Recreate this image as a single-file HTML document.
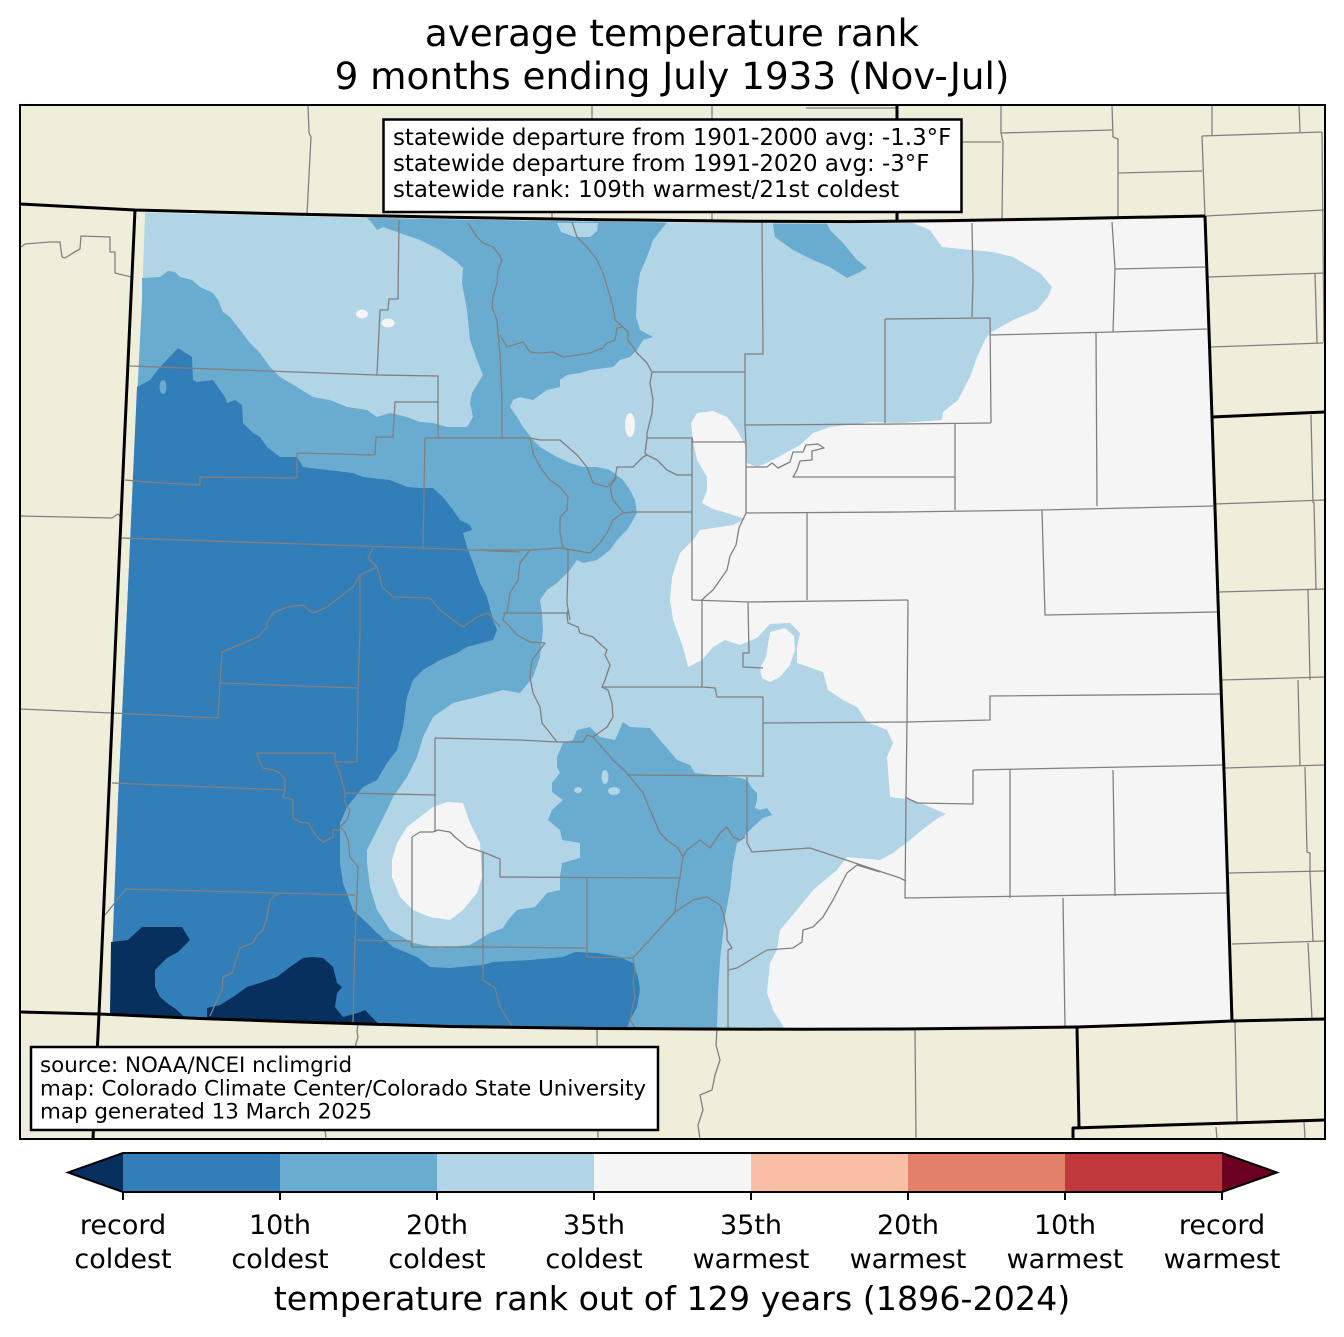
<!DOCTYPE html>
<html>
<head>
<meta charset="utf-8">
<style>
html,body{margin:0;padding:0;background:#fff;}
svg{display:block;}
text{font-family:"DejaVu Sans","Liberation Sans",sans-serif;fill:#000;}
</style>
</head>
<body>
<svg width="1344" height="1337" viewBox="0 0 1344 1337" xmlns="http://www.w3.org/2000/svg">
<rect x="0" y="0" width="1344" height="1337" fill="#ffffff"/>
<!-- title -->
<text x="672" y="46" font-size="37.3" text-anchor="middle">average temperature rank</text>
<text x="672" y="89" font-size="37.3" text-anchor="middle">9 months ending July 1933 (Nov-Jul)</text>

<!-- map background -->
<rect x="20" y="105" width="1305" height="1034" fill="#efeedb"/>

<!-- Colorado data area (white base) -->
<polygon fill="#f5f5f5" points="145,212.5 300,216.3 450,219.3 600,221.7 750,223.2 850,223.6 950,222.6 1050,221 1205,218 1212,417 1218,600 1225,800 1232,1021 1150,1024.5 1077,1027 1000,1028 900,1029 800,1029.3 700,1029 600,1028.5 450,1026.5 300,1022 200,1018.5 110,1014.5 118,800 127,610 137,400 142,300"/>

<!-- light blue -->
<polygon fill="#b1d4e6" points="145,212.5 300,216.3 450,219.3 600,221.7 750,223.2 850,223.6 913,223 930,230 942,247 972,250 993,252 1013,257 1040,273 1052,287 1048,297 1037,310 1013,320 990,333 985,340 977,357 970,377 958,400 943,412 942,420 900,423 873,422 830,427 813,433 800,445 773,460 757,467 747,463 745,445 737,430 727,417 713,411 697,413 691,423 693,440 697,460 707,477 707,490 702,503 713,509 727,513 745,519 733,525 700,530 693,540 680,553 672,577 670,600 673,620 683,647 688,667 702,660 713,647 725,640 740,645 757,638 770,624 790,623 800,633 797,648 797,663 823,672 828,690 843,700 857,707 867,722 887,730 893,743 887,757 890,797 913,800 932,808 946,814 938,818 922,830 910,840 893,853 880,860 847,857 837,870 813,890 797,910 780,930 777,950 770,963 767,993 773,1010 785,1029.3 700,1029 600,1028.5 450,1026.5 300,1022 200,1018.5 110,1014.5 118,800 127,610 137,400 142,300"/>
<!-- white holes in light -->
<polygon fill="#f5f5f5" points="770,632 785,628 794,636 795,650 790,665 780,677 770,682 762,678 760,668 766,657 768,645"/>
<ellipse cx="362" cy="314" rx="6" ry="4.5" fill="#f5f5f5"/>
<ellipse cx="388" cy="323" rx="6.5" ry="4.5" fill="#f5f5f5"/>
<ellipse cx="630" cy="425" rx="5" ry="12" fill="#f5f5f5"/>

<!-- medium blue top-right blob -->
<polygon fill="#6aacd0" points="773,223.5 775,237 793,250 813,260 830,267 847,278 860,272 867,268 857,260 843,243 830,230 827,223.5"/>

<!-- medium blue main -->
<polygon fill="#6aacd0" points="142,278 160,277 168,271 175,272 180,277 192,280 200,287 213,293 218,300 223,312 230,317 240,330 250,343 260,353 270,367 280,377 297,387 313,397 330,400 347,407 367,410 377,417 390,413 407,417 420,422 433,423 447,427 467,427 473,417 470,403 472,393 483,375 477,360 470,340 467,310 462,283 463,268 457,262 440,250 420,240 400,233 383,227 377,230 372,223 367,217.8 450,219.3 600,221.7 667,222.5 653,240 647,257 640,273 637,293 636,317 640,330 653,337 643,340 637,350 630,357 620,360 613,367 590,370 580,373 567,375 560,380 560,387 547,390 533,400 520,397 513,400 510,407 517,417 523,427 533,440 540,447 557,457 570,463 583,467 597,467 610,470 623,480 630,490 635,500 637,513 633,520 627,530 617,540 610,550 597,560 583,563 577,560 570,570 557,583 547,590 540,600 542,613 543,630 540,657 533,677 520,693 503,690 477,697 453,703 433,717 423,737 417,757 407,777 393,797 387,810 377,830 367,850 367,863 370,887 377,910 390,930 413,943 440,948 470,945 490,933 503,928 508,920 517,910 535,907 547,893 560,890 560,877 562,863 580,858 580,843 562,840 560,830 548,820 552,810 563,800 552,792 552,783 560,773 557,767 557,757 563,743 573,740 577,730 590,727 600,737 615,740 623,722 630,727 650,728 660,740 677,760 690,765 695,773 713,775 740,778 747,780 752,788 757,793 757,800 755,808 760,810 767,808 772,815 763,818 753,827 747,833 742,840 737,843 733,863 730,890 725,917 720,960 718,993 717,1029.2 600,1028.5 450,1026.5 300,1022 200,1018.5 110,1014.5 118,800 127,610 137,400 142,300"/>
<!-- light patches in medium -->
<polygon fill="#b1d4e6" points="557,223 561,232 575,237 590,237 597,231 598,223"/>
<ellipse cx="605" cy="777" rx="3.5" ry="7" fill="#b1d4e6"/>
<ellipse cx="614" cy="791" rx="6" ry="4" fill="#b1d4e6"/>
<ellipse cx="578" cy="790" rx="4" ry="3" fill="#b1d4e6"/>

<!-- dark blue -->
<polygon fill="#327eb8" points="137,387 150,380 160,367 178,348 192,357 193,380 197,382 213,380 220,390 225,397 227,403 235,400 242,405 243,423 253,433 260,437 267,447 280,457 297,457 303,467 327,470 353,473 363,477 390,480 407,487 420,488 433,488 443,497 453,510 460,520 470,525 472,530 463,533 467,547 473,563 480,583 487,597 493,620 497,630 493,640 467,647 457,653 440,660 423,670 413,680 407,697 403,727 397,750 387,763 377,780 363,787 347,807 340,823 340,843 340,863 343,883 353,910 367,923 377,933 393,947 417,957 430,967 450,968 470,966 483,965 493,962 530,960 563,957 575,952 597,953 620,957 633,963 638,977 640,990 637,1007 630,1020 627,1028.4 450,1026.5 300,1022 200,1018.5 110,1014.5 118,800 127,610"/>
<ellipse cx="163" cy="387" rx="3.5" ry="7" fill="#6aacd0"/>

<!-- darkest -->
<polygon fill="#08305f" points="111,942 128,940 142,927 182,927 190,940 178,952 167,958 155,970 155,987 160,997 167,1003 177,1010 186,1018.5 110,1014.5"/>
<polygon fill="#08305f" points="207,1019 207,1008 220,1005 233,997 247,987 260,983 277,977 290,967 303,958 313,957 323,958 333,967 337,983 342,987 337,993 335,1007 343,1017 358,1013 365,1010 378,1023.5 300,1022"/>

<!-- SW white blob -->
<polygon fill="#f5f5f5" points="447,802 463,803 470,823 480,843 482,877 477,893 463,910 450,920 430,917 413,910 400,897 392,877 392,860 397,843 407,827 420,817 433,807"/>

<!-- county lines -->
<g fill="none" stroke="#808080" stroke-width="1.3" stroke-linejoin="round">
<polyline points="399,220 398,299 389,299 388,310 380,310 378,353 377,375"/>
<polyline points="130,366 377,375 438,376 438,437"/>
<polyline points="468,223 477,237 483,243 493,247 498,253 502,260 498,270 497,283 493,297 492,307 497,320 498,333 500,353 502,400 502,438"/>
<polyline points="572,222 577,237 587,247 597,260 603,273 608,290 613,307 615,320 623,327 628,332 628,340 637,353 647,363 652,372 745,372"/>
<polyline points="762,222 763,354 745,354 745,372 745,425 746,443 746,513"/>
<polyline points="500,335 507,347 523,342 530,352 540,353 553,352 563,357 577,355 590,353 603,348 607,343 615,340 617,328 623,327"/>
<polyline points="885,319 885,423"/>
<polyline points="885,319 990,318 991,423"/>
<polyline points="990,335 1113,332 1207,329"/>
<polyline points="1112,222 1115,268 1113,332"/>
<polyline points="1115,269 1205,267"/>
<polyline points="972,223 973,280 972,317"/>
<polyline points="1096,333 1097,506"/>
<polyline points="745,425 900,424 991,423"/>
<polyline points="955,423 955,510"/>
<polyline points="425,438 530,438 540,440 560,440 577,455 587,467 593,483 607,487 615,478 617,467 633,467 643,457 647,455 657,460 667,470 677,475 692,475"/>
<polyline points="652,372 650,383 653,400 652,413 647,433 647,438 645,453 647,455"/>
<polyline points="647,438 692,438 693,442 745,442"/>
<polyline points="692,438 692,600"/>
<polyline points="746,467 767,467 772,463 778,468 790,462 793,452 803,452 806,445 818,444 824,448 812,451 812,460 800,461 797,470 793,477 955,477"/>
<polyline points="746,513 900,512 1042,510 1213,506"/>
<polyline points="807,513 807,600"/>
<polyline points="692,600 749,602 908,600"/>
<polyline points="746,513 739,528 736,545 730,556 727,570 720,580 713,590 705,597 702,600 702,687 715,688 717,697 763,697 763,777"/>
<polyline points="1042,510 1045,615 1217,612"/>
<polyline points="908,600 907,720 906,800 905,898 1228,893"/>
<polyline points="1010,770 1010,898"/>
<polyline points="1113,770 1115,896"/>
<polyline points="1063,898 1065,1027"/>
<polyline points="907,722 990,720 990,696 1221,694"/>
<polyline points="973,770 1225,765"/>
<polyline points="905,797 917,803 973,804 973,770"/>
<polyline points="748,602 749,653 743,653 743,667 763,668"/>
<polyline points="763,723 907,722"/>
<polyline points="593,737 613,760 627,773 643,793 650,810 660,833 667,840 678,848 683,857 680,877 677,893 675,912"/>
<polyline points="627,775 763,776"/>
<polyline points="747,777 747,843 752,852 810,848 900,878 906,881"/>
<polyline points="745,837 740,840 733,837 727,827 720,833 710,848 700,840 687,850 683,857"/>
<polyline points="675,912 693,900 707,897 720,905 723,913 727,930 727,940 732,948 728,950 728,1028"/>
<polyline points="728,970 737,968 747,962 767,950 793,948 802,942 803,930 813,927 823,917 833,900 847,873 857,865 880,872"/>
<polyline points="675,912 633,958 635,970 633,983 635,997 632,1010 630,1020 635,1028"/>
<polyline points="483,852 500,859 500,877 680,878"/>
<polyline points="587,878 587,957 633,958"/>
<polyline points="478,947 587,948"/>
<polyline points="483,947 483,980 495,988 500,1007 512,1026"/>
<polyline points="412,837 412,947 483,947"/>
<polyline points="483,852 483,947"/>
<polyline points="412,837 420,832 433,832 438,830 450,832 455,837 467,847 483,852"/>
<polyline points="435,738 435,832"/>
<polyline points="435,738 520,740 557,742 583,742 587,735 593,737"/>
<polyline points="505,613 503,620 510,627 517,635 530,642 545,643 542,647 532,660 530,677 533,693 540,707 542,723 550,733 557,742"/>
<polyline points="568,610 567,615 568,623 578,627 580,633 593,637 598,642 607,650 605,655 610,665 605,680 602,687 608,690 612,703 613,717 607,727 593,737"/>
<polyline points="602,687 702,687"/>
<polyline points="345,793 435,795"/>
<polyline points="360,575 360,630 358,688 357,762 335,762 335,753 257,753 260,762 263,768 273,770 280,773 285,780 285,790"/>
<polyline points="112,783 285,790"/>
<polyline points="220,683 358,688"/>
<polyline points="267,623 267,627 258,637 222,652 220,683 218,718"/>
<polyline points="113,713 218,718"/>
<polyline points="285,790 283,797 293,800 293,818 300,822 308,823 317,837 323,842 333,837 333,830 340,830"/>
<polyline points="335,762 340,773 345,793 345,803 350,810 347,820 340,827 345,832 348,840 350,857 358,867 357,895 355,940 353,1025"/>
<polyline points="105,915 126,889 278,893 355,895"/>
<polyline points="278,893 270,900 267,917 263,930 257,935 253,943 240,948 237,957 232,973 223,977 222,990 217,1000 210,1016"/>
<polyline points="355,940 410,941 412,947"/>
<polyline points="125,480 147,482 200,485 200,477 297,478 297,453 375,455 376,437 393,437 395,402 438,402"/>
<polyline points="122,538 423,548 520,552"/>
<polyline points="425,438 423,548"/>
<polyline points="373,548 368,558 377,567 380,577 382,587 393,597 430,598 440,610 453,620 463,627 477,617 488,613 500,627"/>
<polyline points="377,567 360,575 353,587 340,597 327,607 313,613 303,605 287,607 273,613 267,623"/>
<polyline points="530,438 533,453 540,467 550,480 560,487 568,497 567,510 560,517 560,533 563,547 568,550"/>
<polyline points="480,550 530,550 560,548 590,553 600,543 607,533 613,520 623,513 633,512 692,512"/>
<polyline points="617,477 610,487 613,500 623,512"/>
<polyline points="530,550 520,563 518,580 510,593 507,613"/>
<polyline points="503,613 567,613"/>
<polyline points="568,550 568,567 567,603 570,620"/>
<!-- outside Colorado -->
<polyline points="21,247 25,244 50,242 60,242 62,257 65,258 73,253 80,249 81,236 110,237 110,252 115,252 115,273 131,277"/>
<polyline points="20,516 112,518 118,514 122,518"/>
<polyline points="20,709 112,713"/>
<polyline points="308,105 309,133 311,137 307,214"/>
<polyline points="592,105 592,125"/>
<polyline points="712,105 712,221"/>
<polyline points="552,200 552,219"/>
<polyline points="806,108 897,108"/>
<polyline points="1001,105 1001,133 1003,142 1002,219"/>
<polyline points="961,142 1001,142"/>
<polyline points="1001,133 1112,130"/>
<polyline points="1112,105 1113,137 1118,139 1118,218"/>
<polyline points="1118,173 1202,171"/>
<polyline points="1212,105 1212,135"/>
<polyline points="1202,136 1322,132"/>
<polyline points="1202,136 1205,216"/>
<polyline points="1299,105 1300,132"/>
<polyline points="1322,132 1324,343"/>
<polyline points="1205,216 1324,210"/>
<polyline points="1208,277 1325,273"/>
<polyline points="1315,273 1317,343"/>
<polyline points="1210,347 1323,343"/>
<polyline points="1311,415 1313,503"/>
<polyline points="1215,504 1325,500"/>
<polyline points="1314,502 1316,590"/>
<polyline points="1219,592 1325,589"/>
<polyline points="1308,590 1310,680"/>
<polyline points="1222,680 1325,677"/>
<polyline points="1298,680 1300,766"/>
<polyline points="1225,768 1325,765"/>
<polyline points="1305,767 1307,852 1310,853 1310,872"/>
<polyline points="1228,873 1325,871"/>
<polyline points="1310,872 1313,941"/>
<polyline points="1232,944 1325,941"/>
<polyline points="1308,943 1312,1019"/>
<polyline points="915,1029 916,1139"/>
<polyline points="1235,1021 1237,1122"/>
<polyline points="1216,1127 1217,1139"/>
<polyline points="1304,1121 1305,1139"/>
<polyline points="597,1028 598,1139"/>
<polyline points="717,1029 716,1045 720,1060 715,1075 712,1090 700,1095 703,1110 698,1125 700,1139"/>
<polyline points="358,1024 357,1032 358,1037 356,1043 355,1050"/>
<polyline points="325,1128 326,1139"/>
</g>

<!-- state borders -->
<g fill="none" stroke="#000" stroke-width="3" stroke-linejoin="round">
<polyline points="20,204 135,210 300,214.3 450,217.3 600,219.7 750,221.2 850,221.6 950,220.6 1050,219 1205,216"/>
<polyline points="897,105 897,220.8"/>
<polyline points="1205,216 1212,417 1218,600 1225,800 1232,1021"/>
<polyline points="1212,417 1325,412"/>
<polyline points="135,210 124,450 113,700 99,1014 93,1139"/>
<polyline points="20,1012 99,1014 200,1018.5 300,1022 450,1026.5 600,1028.5 700,1029 800,1029.3 900,1029 1000,1028 1077,1027 1150,1024.5 1232,1021 1325,1019"/>
<polyline points="1077,1027 1079,1127"/>
<polyline points="1073,1139 1073,1128 1325,1120"/>
</g>

<!-- frame -->
<rect x="20" y="105" width="1305" height="1034" fill="none" stroke="#000" stroke-width="2"/>

<!-- top info box -->
<rect x="383.5" y="119.5" width="578" height="92.5" fill="#fff" stroke="#000" stroke-width="2.5"/>
<text x="393" y="145" font-size="22.9">statewide departure from 1901-2000 avg: -1.3°F</text>
<text x="393" y="171" font-size="22.9">statewide departure from 1991-2020 avg: -3°F</text>
<text x="393" y="197" font-size="22.9">statewide rank: 109th warmest/21st coldest</text>

<!-- bottom source box -->
<rect x="31" y="1047" width="627" height="83" fill="#fff" stroke="#000" stroke-width="2.5"/>
<text x="40" y="1072" font-size="21.4">source: NOAA/NCEI nclimgrid</text>
<text x="40" y="1095.5" font-size="21.4">map: Colorado Climate Center/Colorado State University</text>
<text x="40" y="1118.5" font-size="21.4">map generated 13 March 2025</text>

<!-- colorbar -->
<rect x="123" y="1153" width="157" height="39" fill="#327eb8"/>
<rect x="280" y="1153" width="157" height="39" fill="#6aacd0"/>
<rect x="437" y="1153" width="157" height="39" fill="#b1d4e6"/>
<rect x="594" y="1153" width="157" height="39" fill="#f5f5f5"/>
<rect x="751" y="1153" width="157" height="39" fill="#f8bfa5"/>
<rect x="908" y="1153" width="157" height="39" fill="#e3806a"/>
<rect x="1065" y="1153" width="157" height="39" fill="#c1393c"/>
<polygon points="123,1153 68,1172.5 123,1192" fill="#08305f"/>
<polygon points="1222,1153 1277,1172.5 1222,1192" fill="#6b0020"/>
<path d="M123,1153 L1222,1153 L1277,1172.5 L1222,1192 L123,1192 L68,1172.5 Z" fill="none" stroke="#000" stroke-width="2"/>
<g stroke="#000" stroke-width="2">
<line x1="123" y1="1192" x2="123" y2="1200"/>
<line x1="280" y1="1192" x2="280" y2="1200"/>
<line x1="437" y1="1192" x2="437" y2="1200"/>
<line x1="594" y1="1192" x2="594" y2="1200"/>
<line x1="751" y1="1192" x2="751" y2="1200"/>
<line x1="908" y1="1192" x2="908" y2="1200"/>
<line x1="1065" y1="1192" x2="1065" y2="1200"/>
<line x1="1222" y1="1192" x2="1222" y2="1200"/>
</g>
<g font-size="27" text-anchor="middle">
<text x="123" y="1234">record</text><text x="123" y="1268">coldest</text>
<text x="280" y="1234">10th</text><text x="280" y="1268">coldest</text>
<text x="437" y="1234">20th</text><text x="437" y="1268">coldest</text>
<text x="594" y="1234">35th</text><text x="594" y="1268">coldest</text>
<text x="751" y="1234">35th</text><text x="751" y="1268">warmest</text>
<text x="908" y="1234">20th</text><text x="908" y="1268">warmest</text>
<text x="1065" y="1234">10th</text><text x="1065" y="1268">warmest</text>
<text x="1222" y="1234">record</text><text x="1222" y="1268">warmest</text>
</g>
<text x="672" y="1310" font-size="33.3" text-anchor="middle">temperature rank out of 129 years (1896-2024)</text>
</svg>
</body>
</html>
